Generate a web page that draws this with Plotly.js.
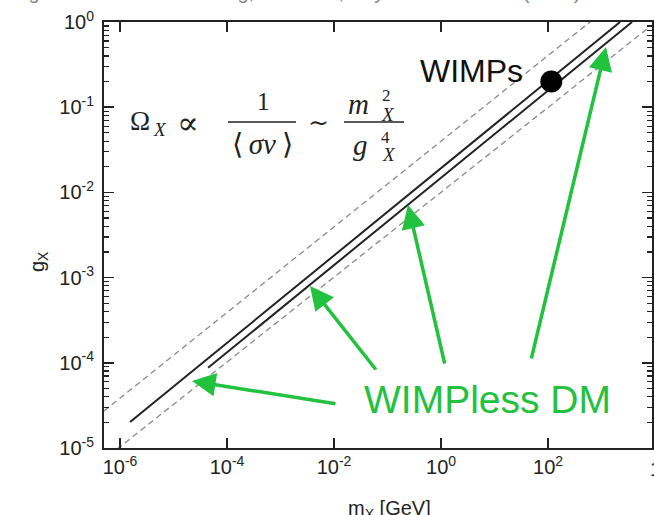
<!DOCTYPE html>
<html>
<head>
<meta charset="utf-8">
<script src="https://cdn.plot.ly/plotly-3.0.1.min.js"></script>
<style>
html,body{margin:0;padding:0;overflow:hidden;background:#fff;}
#chart{width:654px;height:515px;}
</style>
</head>
<body>
<div id="chart"></div>
<script>
// ---- data ----
const upperDashedM = [5.0e-7, 610];
const upperDashedG = [2.72e-5, 1.0];
const upperSolidM  = [1.54e-6, 2220];
const upperSolidG  = [2.02e-5, 1.0];
const lowerSolidM  = [4.42e-5, 3720];
const lowerSolidG  = [8.73e-5, 1.0];
const lowerDashedM = [8.8e-7, 8790];
const lowerDashedG = [9.7e-6, 0.923];
const wimpM = [115];
const wimpG = [0.2];

const xTickVals = [1e-6, 1e-4, 1e-2, 1, 100];
const xTickText = ['10<sup>-6</sup>', '10<sup>-4</sup>', '10<sup>-2</sup>', '10<sup>0</sup>', '10<sup>2</sup>'];
const yTickVals = [1e-5, 1e-4, 1e-3, 1e-2, 1e-1, 1];
const yTickText = ['10<sup>-5</sup>', '10<sup>-4</sup>', '10<sup>-3</sup>', '10<sup>-2</sup>', '10<sup>-1</sup>', '10<sup>0</sup>'];

// ---- layout helpers ----
const L = 104, R = 652, T = 22, B = 448;
const W = R - L, H = B - T;
function px(x){ return (x - L) / W; }
function py(y){ return (B - y) / H; }

const yMinor = [];
for (let e = -5; e < 0; e++) for (let d = 2; d <= 9; d++) yMinor.push(d * Math.pow(10, e));

const green = '#22c23e';
const sans = '"Liberation Sans", Arial, sans-serif';
const serif = '"Liberation Serif", "Times New Roman", serif';

function line(m, g, dashed){
  return {
    x: m, y: g, type: 'scatter', mode: 'lines', hoverinfo: 'skip', showlegend: false,
    line: dashed ? {color: '#8a8a8a', width: 1.3, dash: '6px,4px'} : {color: '#222', width: 2}
  };
}

const traces = [
  line(upperDashedM, upperDashedG, true),
  line(lowerDashedM, lowerDashedG, true),
  line(upperSolidM, upperSolidG, false),
  line(lowerSolidM, lowerSolidG, false),
  {x: wimpM, y: wimpG, type: 'scatter', mode: 'markers', hoverinfo: 'skip', showlegend: false,
   marker: {size: 22, color: '#000'}, cliponaxis: false}
];

function txt(x, y, text, size, opts){
  return Object.assign({xref: 'paper', yref: 'paper', x: px(x), y: py(y), text: text,
    showarrow: false, xanchor: 'center', yanchor: 'middle',
    font: {family: sans, size: size, color: '#111'}}, opts || {});
}
function mth(x, y, text, size, fam){
  return txt(x, y, text, size, {font: {family: fam || serif, size: size, color: '#222'}});
}
function arrow(hx, hy, tx, ty){
  return {xref: 'paper', yref: 'paper', x: px(hx), y: py(hy), ax: tx - hx, ay: ty - hy,
    text: '', showarrow: true, arrowhead: 2, arrowsize: 1.35, arrowwidth: 3.5,
    arrowcolor: green, standoff: 0, startstandoff: 0};
}

const annotations = [
  // cut-off reference line at the very top
  txt(655, -8, 'Feng and Kumar:  J. L. Feng, J. Kumar, Phys.Rev.Lett. 101 (2008) 231301', 20,
      {xanchor: 'right', font: {family: sans, size: 20, color: '#888'}}),
  // 10^4 label cut at right edge
  txt(648, 467, '10<sup>4</sup>', 20, {xanchor: 'left', font: {family: sans, size: 20, color: '#222'}}),
  // axis titles
  txt(389, 509, 'm<sub>X</sub> [GeV]', 20, {font: {family: sans, size: 20, color: '#222'}}),
  txt(38, 262, 'g<sub>X</sub>', 20, {textangle: -90, font: {family: sans, size: 20, color: '#222'}}),
  // labels
  txt(471, 71, 'WIMPs', 32, {font: {family: sans, size: 32, color: '#111'}}),
  txt(487, 399, 'WIMPless DM', 39, {font: {family: sans, size: 39, color: green}}),
  // formula
  mth(140, 121, 'Ω', 27),
  mth(160, 129, '<i>X</i>', 19),
  mth(188, 123, '∝', 32, '"DejaVu Serif", serif'),
  mth(263, 101, '1', 25),
  mth(262, 144, '⟨\u2009<i>σv</i>\u2009⟩', 29),
  mth(318, 123, '∼', 25, '"DejaVu Serif", serif'),
  mth(358, 104, '<i>m</i>', 29),
  mth(386, 96, '2', 17),
  mth(388, 114, '<i>X</i>', 19),
  mth(360, 145, '<i>g</i>', 29),
  mth(385, 137, '4', 17),
  mth(389, 154, '<i>X</i>', 19),
  // arrows
  arrow(192, 381, 337, 404),
  arrow(310, 286, 377, 371),
  arrow(408, 205, 445, 365),
  arrow(606, 47, 531, 360)
];

const shapes = [
  {type: 'line', xref: 'paper', yref: 'paper', x0: px(228), x1: px(296), y0: py(122), y1: py(122),
   line: {color: '#222', width: 1.4}},
  {type: 'line', xref: 'paper', yref: 'paper', x0: px(344), x1: px(404), y0: py(122), y1: py(122),
   line: {color: '#222', width: 1.4}}
];

const axisCommon = {
  type: 'log', showgrid: false, zeroline: false, showline: true, linewidth: 2, linecolor: '#222',
  mirror: 'allticks', ticks: 'inside', ticklen: 10, tickwidth: 1.5, tickcolor: '#222',
  tickmode: 'array', tickfont: {family: sans, size: 20, color: '#222'}
};

const layout = {
  width: 654, height: 515,
  margin: {l: L, r: 654 - R, t: T, b: 515 - B},
  paper_bgcolor: '#fff', plot_bgcolor: '#fff',
  showlegend: false,
  xaxis: Object.assign({}, axisCommon, {
    range: [-6.3, (R - L) / 53.5 - 6.3], tickvals: xTickVals, ticktext: xTickText
  }),
  yaxis: Object.assign({}, axisCommon, {
    range: [-5, 0], tickvals: yTickVals, ticktext: yTickText, ticklabelstandoff: 4,
    minor: {tickmode: 'array', tickvals: yMinor, ticks: 'inside', ticklen: 5, tickwidth: 1.2, tickcolor: '#222', showgrid: false}
  }),
  annotations: annotations,
  shapes: shapes
};

Plotly.newPlot('chart', traces, layout, {staticPlot: true, displayModeBar: false});
</script>
</body>
</html>
